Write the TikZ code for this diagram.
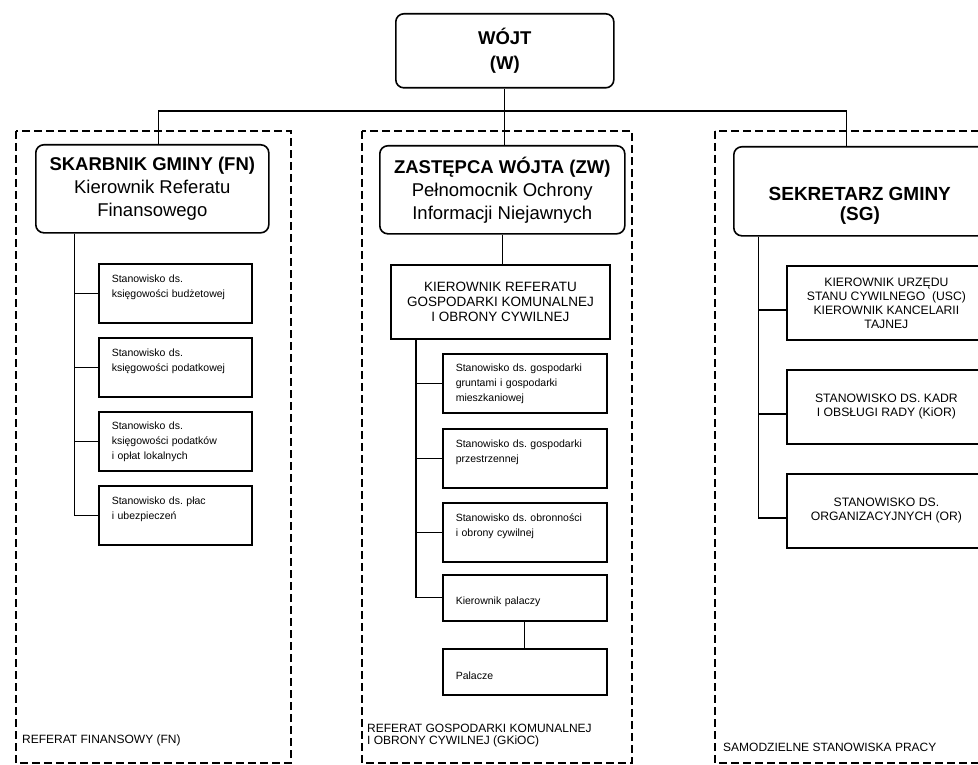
\documentclass[tikz,border=0pt]{standalone}
\usepackage{fontspec}
\setmainfont{Liberation Sans}
\frenchspacing

\begin{document}
\begin{tikzpicture}[x=1pt, y=-1pt,
  head/.style={draw, line width=1.6pt, rounded corners=8pt, anchor=north west,
    align=center, inner sep=0pt, font=\fontsize{18.5}{23}\selectfont},
  kbox/.style={draw, line width=1.8pt, anchor=north west, align=center, inner sep=0pt},
  stan/.style={draw, line width=1.6pt, anchor=north west, align=left,
    inner xsep=13pt, inner ysep=0pt, minimum height=59pt, font=\fontsize{10.5}{15}\selectfont},
  link/.style={line width=1.3pt},
  group/.style={line width=1.6pt, dash pattern=on 8pt off 4pt},
  lbl/.style={anchor=west, align=left, inner sep=0pt, font=\fontsize{12}{12}\selectfont}]
  \useasboundingbox (0,0) rectangle (978,765);
  \clip (0,0) rectangle (978,765);

  % dashed frames of the three departments
  \draw [group] (16,131) rectangle (291,763);
  \draw [group] (362,131) rectangle (632,763);
  \draw [group] (715,131) rectangle (995,763);

  \node [head, minimum width=218pt, minimum height=74pt, font=\fontsize{18.5}{25}\selectfont] (W) at (395,13)
    {\textbf{WÓJT}\\\textbf{(W)}};
  \node [head, minimum width=233pt, minimum height=88pt] (FN) at (35,144)
    {\textbf{SKARBNIK GMINY (FN)}\\Kierownik Referatu\\Finansowego};
  \node [head, minimum width=245pt, minimum height=88pt] (ZW) at (379,145)
    {\textbf{ZASTĘPCA WÓJTA (ZW)}\\Pełnomocnik Ochrony\\Informacji Niejawnych};
  \node [head, minimum width=252pt, minimum height=89pt, font=\fontsize{19}{20}\selectfont] (SG) at (733,146)
    {\mbox{}\\[23pt]\textbf{SEKRETARZ GMINY}\\\textbf{(SG)}};

  \draw [link] ([xshift=6.5pt]FN.north) -- ++(0,-33) -| ([xshift=-13pt]SG.north);
  \draw [link] (W.south) -- (W.south |- ZW.north);

  % finance
  \node [stan, text width=127pt] (FN1) at (98,263) {Stanowisko ds.\\księgowości budżetowej\\\mbox{}};
  \node [stan, text width=127pt] (FN2) at (98,337) {Stanowisko ds.\\księgowości podatkowej\\\mbox{}};
  \node [stan, text width=127pt] (FN3) at (98,411) {Stanowisko ds.\\księgowości podatków\\i opłat lokalnych};
  \node [stan, text width=127pt] (FN4) at (98,485) {Stanowisko ds. płac\\i ubezpieczeń\\\mbox{}};
  \foreach \n in {FN1,FN2,FN3,FN4}
    \draw [link] ([xshift=-78pt]FN.south) |- (\n.west);

  % gospodarka komunalna
  \node [kbox, minimum width=219pt, minimum height=74pt, font=\fontsize{13.5}{15}\selectfont] (KR) at (390,264)
    {KIEROWNIK REFERATU\\GOSPODARKI KOMUNALNEJ\\I OBRONY CYWILNEJ};
  \draw [link] (ZW.south) -- (ZW.south |- KR.north);

  \node [stan, text width=138pt] (GK1) at (442,353) {Stanowisko ds. gospodarki\\gruntami i gospodarki\\mieszkaniowej};
  \node [stan, text width=138pt] (GK2) at (442,428) {Stanowisko ds. gospodarki\\przestrzennej\\\mbox{}};
  \node [stan, text width=138pt] (GK3) at (442,502) {Stanowisko ds. obronności\\i obrony cywilnej\\\mbox{}};
  \node [stan, text width=138pt, minimum height=46pt] (KP) at (442,574) {\mbox{}\\Kierownik palaczy};
  \node [stan, text width=138pt, minimum height=46pt] (PAL) at (442,648) {\mbox{}\\Palacze};
  \foreach \n in {GK1,GK2,GK3,KP}
    \draw [link] ([xshift=-84.5pt]KR.south) |- (\n.west);
  \draw [link] (KP) -- (PAL);

  % samodzielne stanowiska
  \node [kbox, minimum width=199pt, minimum height=74pt, font=\fontsize{12.2}{14}\selectfont] (R1) at (786,265)
    {KIEROWNIK URZĘDU\\STANU CYWILNEGO~ (USC)\\KIEROWNIK KANCELARII\\TAJNEJ};
  \node [kbox, minimum width=199pt, minimum height=74pt, font=\fontsize{12.2}{14}\selectfont] (R2) at (786,369)
    {STANOWISKO DS. KADR\\I OBSŁUGI RADY (KiOR)};
  \node [kbox, minimum width=199pt, minimum height=74pt, font=\fontsize{12.2}{14}\selectfont] (R3) at (786,473)
    {STANOWISKO DS.\\ORGANIZACYJNYCH (OR)};
  \foreach \n in {R1,R2,R3}
    \draw [link] ([xshift=-101pt]SG.south) |- ([yshift=-7pt]\n.west);

  \node [lbl] (lFN) at (22,740) {REFERAT FINANSOWY (FN)};
  \node [lbl] (lGK) at (367,736) {REFERAT GOSPODARKI KOMUNALNEJ\\I OBRONY CYWILNEJ (GKiOC)};
  \node [lbl] (lSS) at (723,747) {SAMODZIELNE STANOWISKA PRACY};
\end{tikzpicture}
\end{document}
